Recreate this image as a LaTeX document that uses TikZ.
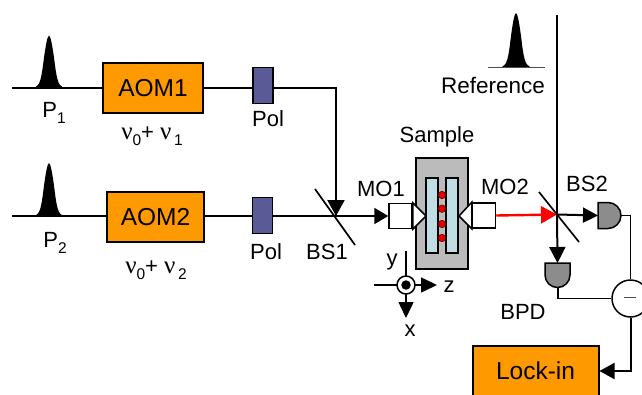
\documentclass[tikz,border=0pt]{standalone}
\usepackage{fontspec}
\setmainfont{Liberation Sans}
\newfontfamily\nufont{Liberation Serif}
\usetikzlibrary{arrows.meta}
\definecolor{aom}{HTML}{FF9900}
\definecolor{pol}{HTML}{5A5A96}
\definecolor{plate}{HTML}{BFDDE3}
\definecolor{samp}{HTML}{BBBBBB}
\definecolor{det}{HTML}{8C8C8C}
\newcommand{\subs}[1]{\raisebox{-6.5pt}{\fontsize{15.5}{15.5}\selectfont #1}}
\newcommand{\nuu}{{\nufont\fontsize{25}{25}\selectfont ν}}
\tikzset{
 beam/.style={line width=2pt},
 thin beam/.style={line width=1.7pt},
 aombox/.style={draw=black,line width=1.5pt,fill=aom,minimum width=#1,minimum height=50pt,inner sep=0pt,font=\fontsize{24.5}{24.5}\selectfont},
 polbox/.style={draw=black,line width=1.5pt,fill=pol,minimum width=20pt,minimum height=36pt,inner sep=0pt},
 objbox/.style={draw=black,line width=1.5pt,fill=white,minimum width=23pt,minimum height=25pt,inner sep=0pt},
 lab/.style={inner sep=0pt,font=\fontsize{22}{22}\selectfont},
 pulse/.style={fill=black,draw=none},
}
\begin{document}
\begin{tikzpicture}[x=1pt,y=-1pt]
\useasboundingbox (0,0) rectangle (642,394);
\clip (0,0) rectangle (642,394);
% sample
\node[draw=black,line width=1.5pt,fill=samp,minimum width=52pt,minimum height=111pt,inner sep=0pt] (sample) at (442,213.5) {};
\node[draw=black,line width=1.5pt,fill=plate,minimum width=12pt,minimum height=75pt,inner sep=0pt] (plateA) at (432,215.5) {};
\node[draw=black,line width=1.5pt,fill=plate,minimum width=12pt,minimum height=75pt,inner sep=0pt] (plateB) at (452,215.5) {};
\foreach \n/\y in {a/195,b/208.7,c/224,d/238}
  \node[circle,fill=red!90!black,draw=black!60!red,line width=.6pt,minimum size=7.5pt,inner sep=0pt] (dot\n) at (442,\y) {};
% pulses
\foreach \cx/\by/\ht in {49/87.5/52,49/216/53,516/67/54}{
  \fill[pulse] (\cx-14,\by) .. controls (\cx-9,\by-2) and (\cx-7.5,\by-10) .. (\cx-5.5,\by-0.5*\ht) .. controls (\cx-3.5,\by-0.8*\ht) and (\cx-1.5,\by-\ht) .. (\cx,\by-\ht) .. controls (\cx+1.5,\by-\ht) and (\cx+3.5,\by-0.8*\ht) .. (\cx+5.5,\by-0.5*\ht) .. controls (\cx+7.5,\by-10) and (\cx+9,\by-2) .. (\cx+14,\by) -- cycle;
}
\draw[line width=.7pt,black!70] (488,67) coordinate (rl) -- (545,67) coordinate (rr);
% nodes
\node[aombox=100pt] (aom1) at (153,88) {AOM1};
\node[aombox=97pt] (aom2) at (155.5,217) {AOM2};
\node[polbox] (pol1) at (263,85.5) {};
\node[polbox] (pol2) at (262.5,215.5) {};
\node[objbox] (mo1) at (400.5,216) {};
\node[objbox] (mo2) at (484,215.5) {};
\node[draw=black,line width=1.5pt,fill=aom,minimum width=126pt,minimum height=60pt,inner sep=0pt,anchor=north west] (lock) at (472,345) {};
\node[font=\fontsize{24.5}{24.5}\selectfont,inner sep=0pt] (locklab) at (535.5,371) {Lock-in};
\node[circle,draw=black,line width=1.5pt,fill=white,minimum size=37pt,inner sep=0pt] (diff) at (630.5,298.5) {};
\coordinate (m1) at (624,297.5);
\coordinate (m2) at (636,297.5);
\draw[line width=1.2pt,black!70] (m1) -- (m2);
% objective tips
\draw[line width=1.5pt,fill=white] (mo1.north east) -- (426,216) -- (mo1.south east) -- cycle;
\draw[line width=1.5pt,fill=white] (mo2.north west) -- (459,216) -- (mo2.south west) -- cycle;
% beam coordinates
\coordinate (l1) at (12,87.5);
\coordinate (l2) at (12,216);
\coordinate (bs1) at (336,216);
\coordinate (bs2) at (557,214.5);
\coordinate (corner) at (336,87.5);
\coordinate (refstart) at (557,15);
% beams
\draw[beam] (l1) -- (aom1.west |- l1);
\draw[beam] (aom1.east |- l1) -- (pol1.west |- l1);
\draw[beam] (pol1.east |- l1) -- (corner) -- (bs1);
\draw[beam,-{Triangle[length=16pt,width=17pt]}] (corner) -- (bs1);
\draw[beam] (l2) -- (aom2.west |- l2);
\draw[beam] (aom2.east |- l2) -- (pol2.west |- l2);
\draw[beam] (pol2.east |- l2) -- (bs1);
\draw[beam,-{Triangle[length=14pt,width=16pt]}] (bs1) -- (mo1.west);
\draw[line width=1.7pt] (315,189) coordinate (bs1a) -- (355,245) coordinate (bs1b);
\draw[line width=1.7pt] (539,192) coordinate (bs2a) -- (579,242) coordinate (bs2b);
\draw[line width=2.4pt,red,-{Triangle[length=16pt,width=17pt]}] (mo2.east) -- (bs2);
\draw[beam] (refstart) -- (bs2);
% detectors
\draw[line width=1.5pt,fill=det] (598,202.5) coordinate (dra) -- (608,202.5) arc[start angle=90,end angle=-90,radius=13pt] -- (598,228.5) -- cycle;
\coordinate (drout) at (621,215.5);
\coordinate (drin) at (598,215.5);
\draw[line width=1.5pt,fill=det] (545,263) -- (570,263) -- (570,275) arc[start angle=0,end angle=-180,radius=12.5pt] -- cycle;
\coordinate (dbin) at (557.5,263);
\coordinate (dbout) at (558,287.5);
\draw[beam,-{Triangle[length=15pt,width=15pt]}] (bs2) -- (drin);
\draw[beam,-{Triangle[length=16pt,width=16pt]}] (bs2) -- (dbin);
\draw[thin beam] (drout) -| (diff.north);
\draw[thin beam] (dbout) |- (diff.west);
\draw[beam,-{Triangle[length=15pt,width=16pt]}] (diff.south) |- (lock.east |- 0,371);
% axes
\coordinate (ax) at (406,285);
\draw[line width=1.5pt] (406,251) coordinate (axtop) -- (ax);
\draw[line width=1.5pt,-{Triangle[length=16pt,width=15pt]}] (ax) -- (406,318) coordinate (axbot);
\draw[line width=1.5pt,-{Triangle[length=16pt,width=15pt]}] (374,285) coordinate (axl) -- (437,285) coordinate (axr);
\node[circle,draw=black,line width=1.5pt,fill=white,minimum size=18pt,inner sep=0pt] (axc) at (ax) {};
\node[circle,fill=black,minimum size=9.5pt,inner sep=0pt] (axd) at (ax) {};
% labels
\node[lab] (p1) at (54,113) {P\subs{1}};
\node[lab] (p2) at (55,243) {P\subs{2}};
\node[lab] (nu1) at (152,136) {\nuu\subs{0}+ \nuu\subs{\,1}};
\node[lab] (nu2) at (156,270) {\nuu\subs{0}+ \nuu\subs{\,2}};
\node[lab] (pl1) at (268,119) {Pol};
\node[lab] (pl2) at (266,252) {Pol};
\node[lab] (bs1l) at (327,252) {BS1};
\node[lab] (mo1l) at (381,189) {MO1};
\node[lab] (mo2l) at (505,187) {MO2};
\node[lab] (samplel) at (437,137) {Sample};
\node[lab,font=\fontsize{22.5}{22.5}\selectfont] (refl) at (493,85) {Reference};
\node[lab] (bs2l) at (587,184) {BS2};
\node[lab] (bpd) at (523,312) {BPD};
\node[lab] (yl) at (392,262) {y};
\node[lab] (zl) at (449,287) {z};
\node[lab] (xl) at (410,331) {x};
\end{tikzpicture}
\end{document}
